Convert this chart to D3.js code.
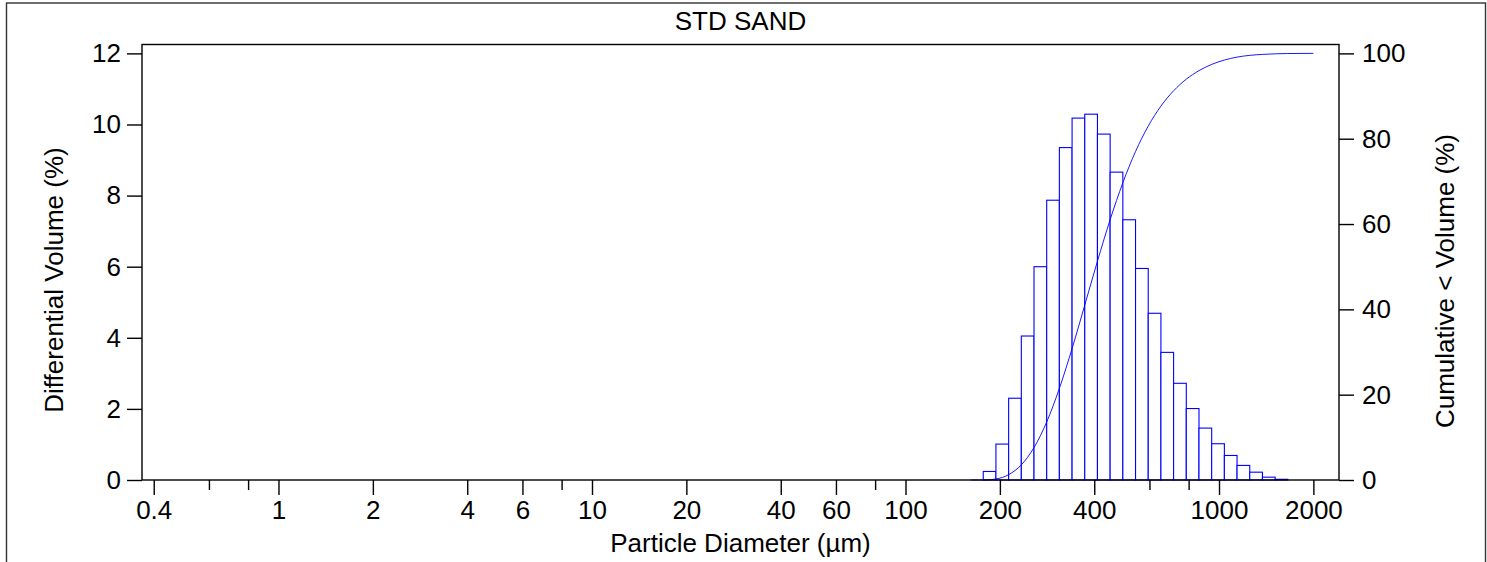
<!DOCTYPE html>
<html>
<head>
<meta charset="utf-8">
<script src="https://cdn.jsdelivr.net/npm/d3@7/dist/d3.min.js"></script>
<style>
  html, body { margin: 0; padding: 0; background: #fff; }
  svg { display: block; }
  text { font-family: "Liberation Sans", Arial, sans-serif; fill: #000; }
</style>
</head>
<body>
<svg id="chart" width="1487" height="562"></svg>
<script>
// ---- Data ----
const chartTitle = "STD SAND";
const xTitle = "Particle Diameter (µm)";
const yLeftTitle = "Differential Volume (%)";
const yRightTitle = "Cumulative < Volume (%)";

// channel edges (µm) of the size bins
const binEdges = [161.7, 177.0, 194.3, 213.3, 234.1, 257.0, 282.1, 309.6, 339.9, 373.1,
  409.5, 449.5, 493.5, 541.7, 594.6, 652.7, 716.4, 786.4, 863.3, 947.6,
  1040.2, 1141.8, 1253.4, 1375.8, 1510.3, 1657.8];
// differential volume (%) per bin
const diffVolume = [0, 0.24, 1.01, 2.30, 4.05, 6.00, 7.87, 9.35, 10.18, 10.29,
  9.73, 8.66, 7.32, 5.95, 4.69, 3.59, 2.72, 2.01, 1.46, 1.02,
  0.69, 0.41, 0.22, 0.08, 0.02];
// cumulative < volume (%) at the diameters
const cumDiameter = [161.7, 177.0, 194.3, 213.3, 234.1, 257.0, 282.1, 309.6, 339.9, 373.1,
  409.5, 449.5, 493.5, 541.7, 594.6, 652.7, 716.4, 786.4, 863.3, 947.6,
  1040.2, 1141.8, 1253.4, 1375.8, 1510.3, 1657.8, 2000];
const cumVolume = [0, 0, 0.24, 1.25, 3.55, 7.60, 13.60, 21.47, 30.82, 41.00,
  51.29, 61.02, 69.68, 77.00, 82.95, 87.64, 91.23, 93.95, 95.96, 97.42,
  98.44, 99.13, 99.54, 99.76, 99.90, 99.97, 100];

const xMajorTicks = [0.4, 1, 2, 4, 6, 10, 20, 40, 60, 100, 200, 400, 1000, 2000];
const xMinorTicks = [0.6, 0.8, 8, 80, 600, 800];
const yLeftTicks = [0, 2, 4, 6, 8, 10, 12];
const yRightTicks = [0, 20, 40, 60, 80, 100];

// ---- Layout ----
const svg = d3.select("#chart");
const FS = 26;
const plot = { left: 142, right: 1339, top: 44.5, bottom: 480 };

const x = d3.scaleLog().domain([0.367, 2414]).range([plot.left, plot.right]);
const yL = d3.scaleLinear().domain([0, 12.25]).range([plot.bottom, plot.top]);
const yR = d3.scaleLinear().domain([0, 100 * 12.25 / 12]).range([plot.bottom, plot.top]);

// outer frame
svg.append("rect")
  .attr("x", 6.5).attr("y", 3).attr("width", 1479).attr("height", 570)
  .attr("fill", "none").attr("stroke", "#333").attr("stroke-width", 1.4);

// title
svg.append("text")
  .attr("x", (plot.left + plot.right) / 2).attr("y", 30)
  .attr("text-anchor", "middle").attr("font-size", FS)
  .text(chartTitle);

// bars
const bins = diffVolume.map((v, i) => ({ x0: binEdges[i], x1: binEdges[i + 1], v }));
svg.append("g").selectAll("rect").data(bins).join("rect")
  .attr("x", d => x(d.x0))
  .attr("width", d => x(d.x1) - x(d.x0))
  .attr("y", d => yL(d.v))
  .attr("height", d => yL(0) - yL(d.v))
  .attr("fill", "#fff")
  .attr("stroke", "#0000ff")
  .attr("stroke-width", 1.1);

// cumulative curve
const line = d3.line()
  .x((d, i) => x(cumDiameter[i]))
  .y(d => yR(d))
  .curve(d3.curveMonotoneX);
svg.append("path")
  .datum(cumVolume)
  .attr("d", line)
  .attr("fill", "none")
  .attr("stroke", "#0000ff")
  .attr("stroke-width", 0.9);

// plot box
svg.append("rect")
  .attr("x", plot.left).attr("y", plot.top)
  .attr("width", plot.right - plot.left).attr("height", plot.bottom - plot.top)
  .attr("fill", "none").attr("stroke", "#000").attr("stroke-width", 1.4);

function styleAxis(g) {
  g.select(".domain").remove();
  g.selectAll(".tick line").attr("stroke", "#000").attr("stroke-width", 1.4);
  g.selectAll(".tick text").attr("font-size", FS).attr("font-family", "Liberation Sans, Arial, sans-serif").attr("fill", "#000");
}

// x axis major
svg.append("g")
  .attr("transform", `translate(0,${plot.bottom})`)
  .call(d3.axisBottom(x).tickValues(xMajorTicks).tickFormat(d3.format("~g")).tickSize(15).tickPadding(6))
  .call(styleAxis);
// x axis minor
svg.append("g")
  .attr("transform", `translate(0,${plot.bottom})`)
  .call(d3.axisBottom(x).tickValues(xMinorTicks).tickFormat("").tickSize(10))
  .call(styleAxis);

// left y axis
svg.append("g")
  .attr("transform", `translate(${plot.left},0)`)
  .call(d3.axisLeft(yL).tickValues(yLeftTicks).tickSize(15).tickPadding(6))
  .call(styleAxis);

// right y axis
svg.append("g")
  .attr("transform", `translate(${plot.right},0)`)
  .call(d3.axisRight(yR).tickValues(yRightTicks).tickSize(15).tickPadding(8))
  .call(styleAxis);

// axis titles
svg.append("text")
  .attr("x", (plot.left + plot.right) / 2).attr("y", 552)
  .attr("text-anchor", "middle").attr("font-size", FS)
  .text(xTitle);

svg.append("text")
  .attr("transform", `translate(63,280) rotate(-90)`)
  .attr("text-anchor", "middle").attr("font-size", FS)
  .text(yLeftTitle);

svg.append("text")
  .attr("transform", `translate(1454,281) rotate(-90)`)
  .attr("text-anchor", "middle").attr("font-size", FS)
  .text(yRightTitle);
</script>
</body>
</html>
